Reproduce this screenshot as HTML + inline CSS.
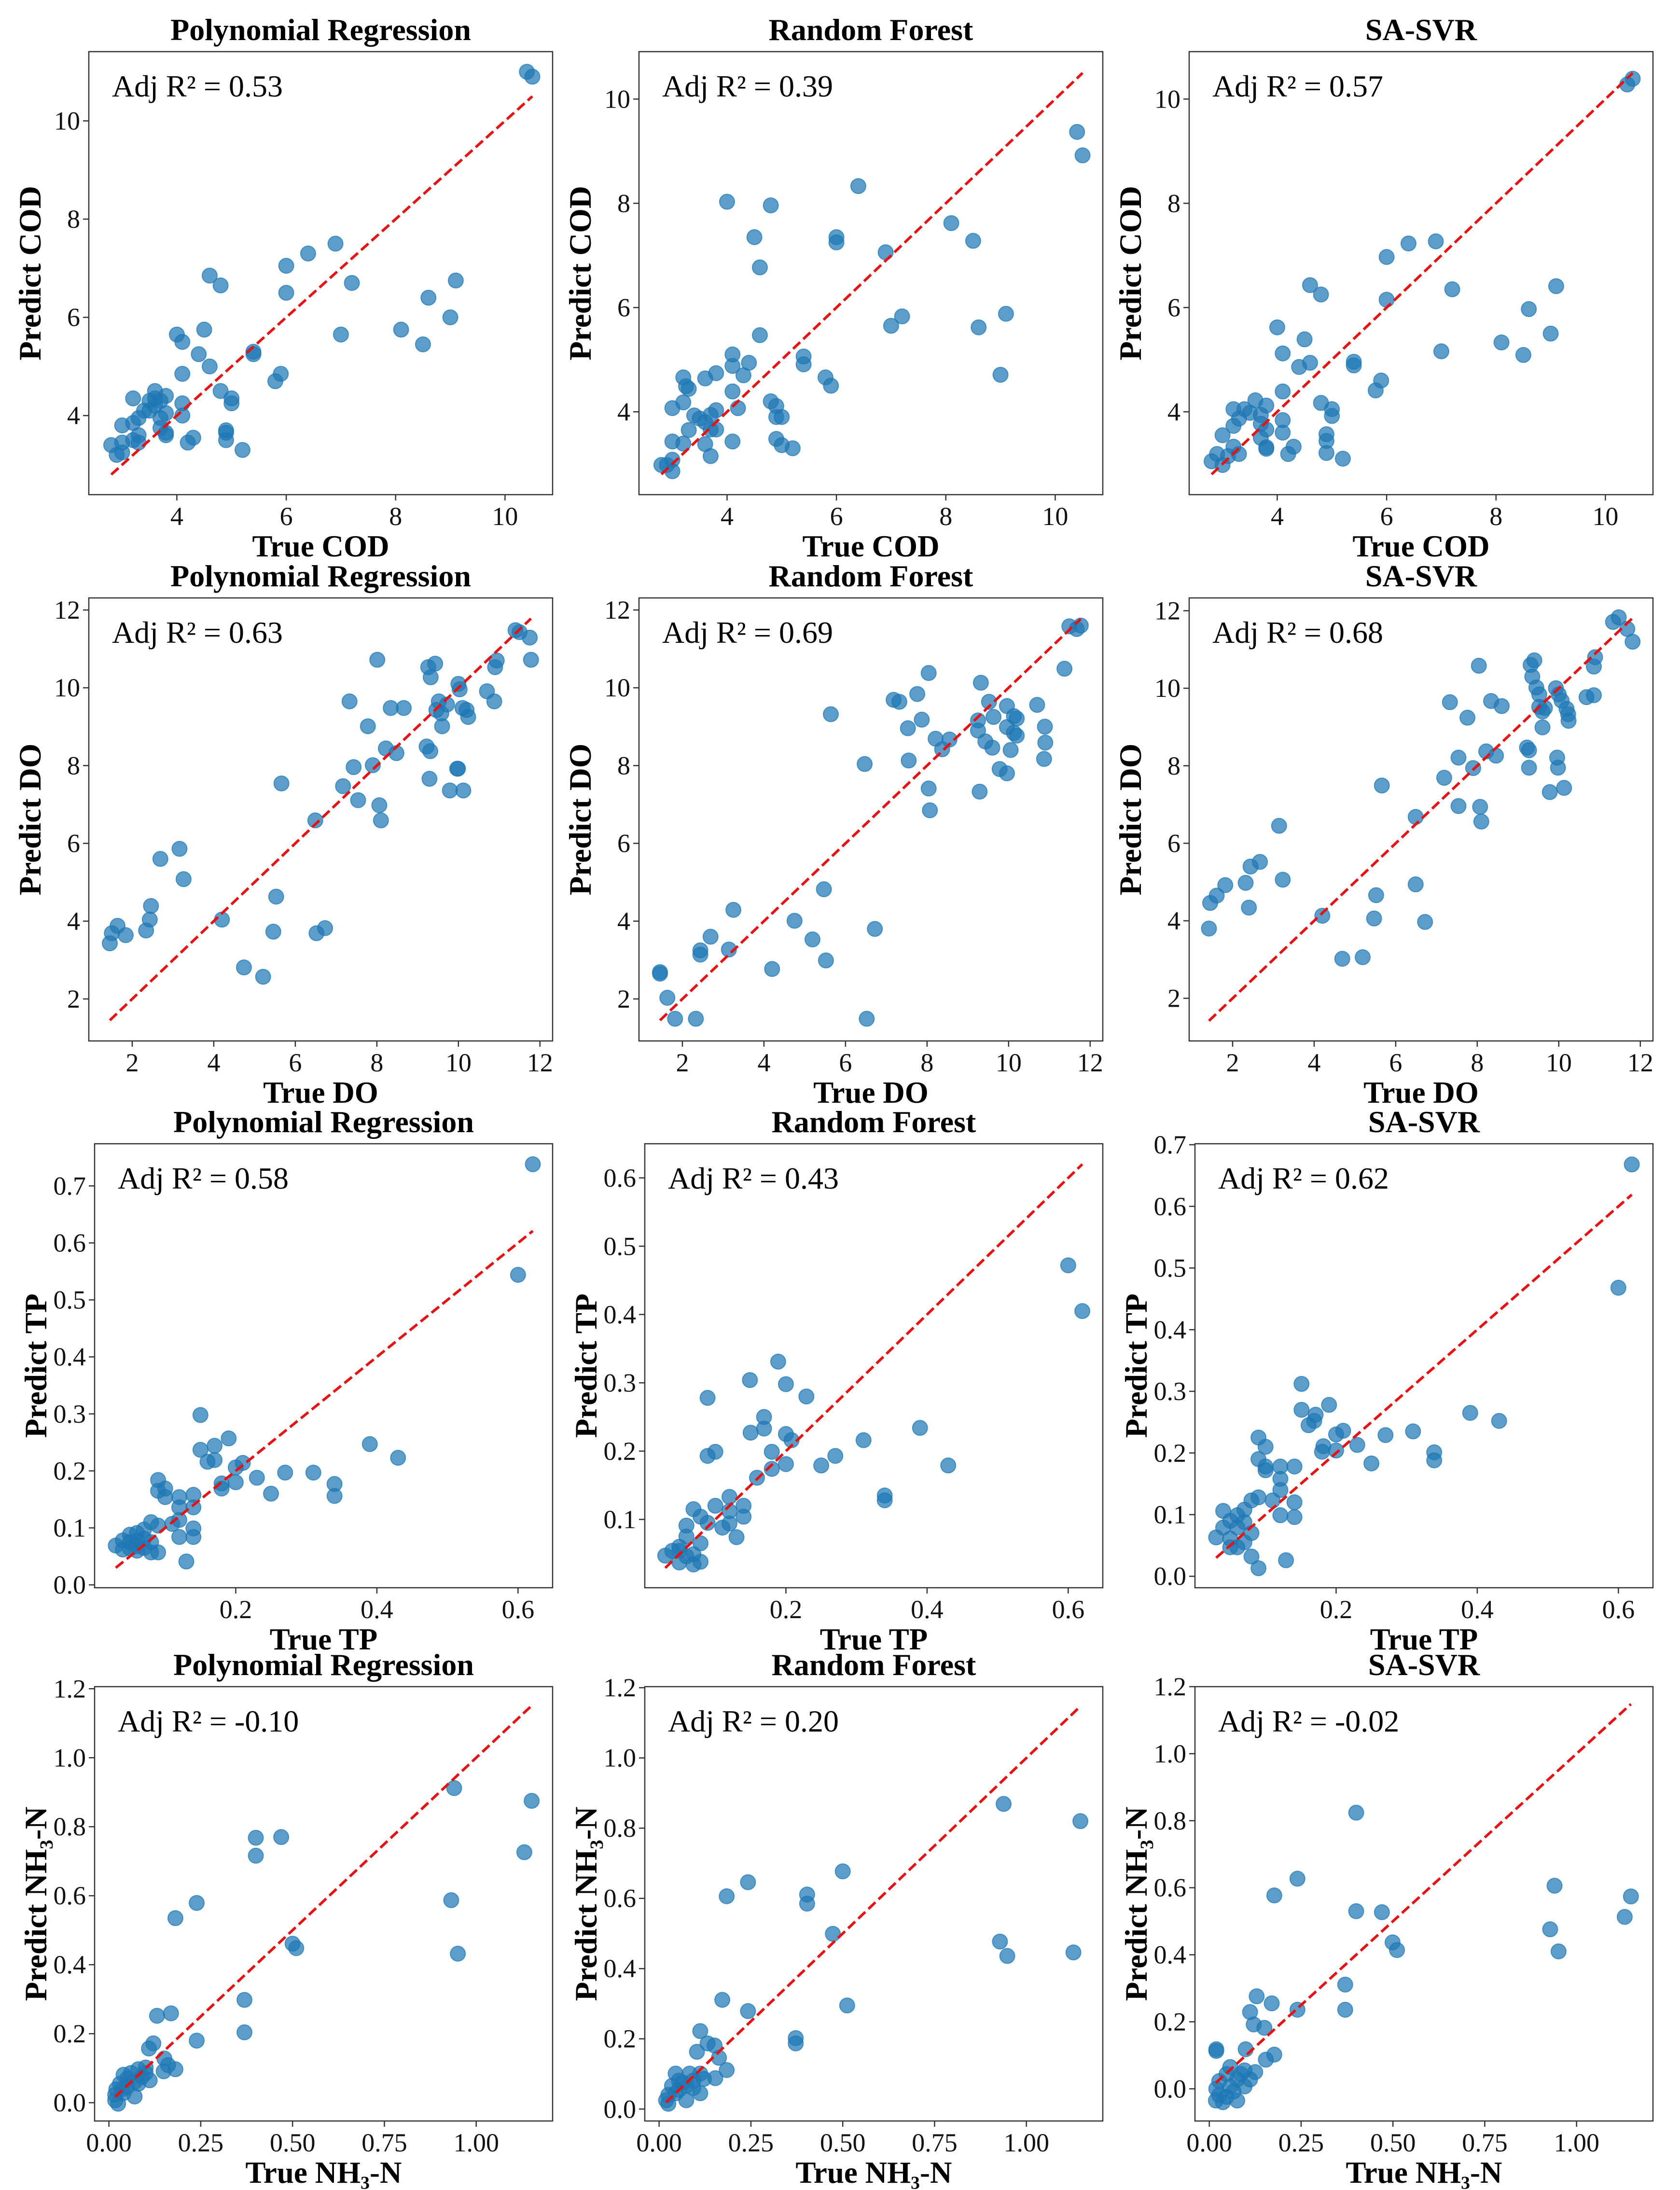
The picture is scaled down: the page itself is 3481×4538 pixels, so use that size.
<!DOCTYPE html>
<html><head><meta charset="utf-8">
<style>
html,body{margin:0;padding:0;background:#fff;}
svg{display:block;font-family:"Liberation Serif","DejaVu Serif",serif;}
</style></head>
<body>
<svg id="fig" xmlns="http://www.w3.org/2000/svg" width="3481" height="4538" viewBox="0 0 3481 4538">
<rect width="3481" height="4538" fill="#fff"/>
</svg>
<script>
// ---- data: [true, predict] pairs per panel ----
const codPR = [[10.4,11.0],[10.5,10.9],[6.9,7.5],[6.4,7.3],[6.0,7.05],[6.0,6.5],[7.2,6.7],[9.1,6.75],[8.6,6.4],[9.0,6.0],[8.1,5.75],[8.5,5.45],[7.0,5.65],[4.6,6.85],[4.8,6.65],[4.0,5.65],[4.1,5.5],[4.5,5.75],[4.4,5.25],[4.6,5.0],[5.4,5.3],[5.4,5.25],[4.1,4.85],[5.9,4.85],[5.8,4.7],[4.8,4.5],[5.0,4.35],[5.0,4.25],[4.1,4.25],[4.1,4.0],[4.9,3.7],[4.9,3.65],[4.9,3.5],[4.3,3.55],[4.2,3.45],[5.2,3.3],[3.2,4.35],[3.5,4.3],[3.6,4.5],[3.7,4.3],[3.8,4.4],[3.4,4.1],[3.6,4.2],[3.8,4.05],[3.3,3.95],[3.2,3.85],[3.0,3.8],[3.7,3.95],[3.7,3.75],[3.8,3.65],[3.8,3.6],[3.3,3.6],[3.2,3.5],[3.3,3.45],[3.0,3.45],[2.8,3.4],[2.9,3.2],[3.0,3.25],[3.6,4.35],[3.5,4.1]];
const codRF = [[10.4,9.37],[10.5,8.92],[6.4,8.33],[4.0,8.03],[4.8,7.96],[8.1,7.62],[4.5,7.35],[6.0,7.35],[6.0,7.25],[8.5,7.28],[6.9,7.06],[4.6,6.77],[7.0,5.65],[7.2,5.83],[8.6,5.62],[9.1,5.88],[9.0,4.71],[4.6,5.47],[4.1,5.1],[4.1,4.88],[4.4,4.94],[5.4,5.06],[5.4,4.91],[5.8,4.66],[5.9,4.5],[3.8,4.74],[3.6,4.64],[4.3,4.7],[3.2,4.66],[3.25,4.49],[3.3,4.44],[4.1,4.39],[3.0,4.07],[3.2,4.18],[4.2,4.07],[4.8,4.2],[4.9,4.11],[4.9,3.9],[5.0,3.9],[3.4,3.93],[3.5,3.87],[3.7,3.94],[3.8,4.03],[3.6,3.8],[3.8,3.66],[3.3,3.65],[3.7,3.66],[3.0,3.43],[3.2,3.39],[3.6,3.38],[4.1,3.43],[4.9,3.48],[5.0,3.36],[5.2,3.3],[3.7,3.15],[2.8,2.98],[2.9,2.98],[3.0,3.08],[3.0,2.86]];
const codSVR = [[10.5,10.39],[10.4,10.28],[6.9,7.27],[6.4,7.23],[6.0,6.97],[6.0,6.15],[7.2,6.35],[9.1,6.41],[8.6,5.97],[9.0,5.5],[8.1,5.33],[8.5,5.09],[7.0,5.16],[4.6,6.43],[4.8,6.25],[4.0,5.62],[4.5,5.39],[4.1,5.12],[4.6,4.94],[4.4,4.86],[5.4,4.96],[5.4,4.89],[5.9,4.6],[5.8,4.41],[4.1,4.39],[4.8,4.17],[5.0,4.05],[5.0,3.92],[4.1,3.84],[4.1,3.6],[4.3,3.33],[4.2,3.19],[4.9,3.57],[4.9,3.44],[4.9,3.21],[5.2,3.1],[3.2,4.05],[3.4,4.05],[3.6,4.22],[3.8,4.12],[3.5,3.98],[3.7,3.94],[3.3,3.87],[3.2,3.73],[3.7,3.77],[3.8,3.66],[3.8,3.32],[3.8,3.29],[3.7,3.5],[3.0,3.55],[3.2,3.33],[3.3,3.19],[2.9,3.19],[2.8,3.05],[3.0,2.98],[3.1,3.15]];
const doPR = [[11.4,11.48],[11.5,11.43],[11.75,11.29],[11.78,10.72],[8.01,10.72],[9.26,10.53],[9.43,10.62],[9.32,10.27],[10.0,10.1],[10.03,9.96],[10.7,9.91],[10.88,9.65],[10.9,10.53],[10.94,10.7],[7.33,9.65],[8.34,9.48],[8.66,9.48],[9.52,9.65],[9.46,9.43],[9.72,9.57],[9.58,9.34],[10.1,9.48],[10.2,9.43],[10.24,9.25],[7.78,9.01],[9.6,9.01],[9.22,8.49],[9.31,8.37],[8.22,8.44],[8.48,8.32],[7.43,7.96],[7.9,8.01],[9.97,7.92],[9.99,7.92],[9.29,7.66],[9.79,7.36],[10.12,7.36],[7.17,7.47],[7.54,7.11],[8.06,6.98],[8.1,6.59],[6.49,6.59],[5.66,7.54],[3.16,5.86],[2.69,5.6],[3.26,5.08],[5.53,4.63],[2.46,4.39],[2.43,4.04],[4.2,4.04],[1.64,3.88],[1.5,3.69],[1.45,3.43],[1.84,3.64],[2.34,3.76],[5.46,3.73],[6.52,3.69],[6.73,3.82],[4.74,2.81],[5.21,2.57]];
const doRF = [[11.49,11.58],[11.77,11.6],[11.67,11.51],[11.37,10.49],[8.04,10.38],[9.32,10.13],[7.76,9.84],[7.18,9.69],[7.32,9.64],[5.64,9.32],[9.52,9.64],[9.96,9.53],[10.7,9.56],[7.87,9.18],[7.53,8.96],[9.25,9.16],[9.63,9.25],[10.13,9.27],[10.2,9.21],[9.96,8.99],[10.13,8.84],[10.2,8.77],[10.89,9.0],[10.9,8.59],[9.25,8.9],[9.43,8.62],[9.6,8.46],[8.21,8.69],[8.55,8.67],[8.37,8.42],[10.05,8.4],[10.87,8.17],[7.55,8.13],[6.47,8.04],[9.78,7.91],[9.96,7.8],[8.04,7.41],[9.29,7.33],[8.07,6.85],[5.47,4.82],[3.25,4.29],[4.75,4.01],[6.72,3.8],[2.69,3.6],[5.19,3.53],[2.44,3.25],[2.44,3.14],[3.14,3.27],[5.52,2.99],[4.2,2.77],[1.45,2.69],[1.45,2.65],[1.63,2.03],[1.82,1.49],[2.33,1.49],[6.52,1.49]];
const doSVR = [[11.47,11.83],[11.33,11.71],[11.68,11.53],[11.81,11.2],[10.89,10.8],[10.86,10.56],[8.04,10.58],[9.31,10.6],[9.4,10.72],[9.35,10.3],[9.45,10.02],[9.93,10.0],[10.0,9.84],[10.07,9.68],[10.68,9.77],[10.86,9.82],[9.52,9.84],[7.33,9.64],[8.34,9.67],[8.6,9.54],[9.52,9.52],[9.66,9.49],[9.6,9.4],[10.19,9.47],[10.23,9.33],[10.24,9.16],[7.76,9.24],[9.6,8.99],[9.22,8.47],[9.27,8.4],[8.22,8.37],[8.46,8.26],[7.54,8.21],[9.96,8.21],[9.98,7.95],[9.27,7.95],[7.9,7.94],[7.19,7.69],[9.78,7.32],[10.13,7.43],[5.66,7.49],[7.54,6.96],[8.07,6.94],[8.1,6.56],[6.49,6.68],[3.14,6.45],[2.67,5.52],[2.44,5.4],[3.23,5.06],[2.32,4.98],[1.82,4.92],[1.61,4.65],[1.45,4.46],[6.49,4.94],[5.52,4.66],[2.4,4.34],[5.47,4.06],[6.72,3.97],[4.2,4.13],[1.42,3.8],[4.69,3.02],[5.19,3.06]];
const tpPR = [[0.621,0.738],[0.6,0.544],[0.39,0.247],[0.43,0.223],[0.34,0.177],[0.34,0.156],[0.31,0.197],[0.27,0.197],[0.23,0.188],[0.25,0.16],[0.15,0.298],[0.19,0.257],[0.17,0.244],[0.15,0.237],[0.16,0.216],[0.17,0.219],[0.21,0.214],[0.2,0.206],[0.2,0.18],[0.18,0.178],[0.18,0.169],[0.09,0.184],[0.1,0.169],[0.09,0.165],[0.1,0.154],[0.12,0.154],[0.14,0.158],[0.12,0.136],[0.14,0.136],[0.12,0.114],[0.11,0.107],[0.14,0.099],[0.12,0.084],[0.14,0.084],[0.13,0.041],[0.08,0.11],[0.09,0.104],[0.07,0.097],[0.06,0.091],[0.05,0.088],[0.04,0.078],[0.03,0.069],[0.05,0.075],[0.06,0.078],[0.07,0.081],[0.08,0.075],[0.06,0.06],[0.08,0.057],[0.09,0.057],[0.04,0.062],[0.05,0.064],[0.07,0.065],[0.06,0.068]];
const tpRF = [[0.6,0.472],[0.62,0.405],[0.189,0.331],[0.149,0.304],[0.2,0.298],[0.089,0.278],[0.229,0.28],[0.169,0.25],[0.169,0.233],[0.15,0.227],[0.2,0.225],[0.208,0.216],[0.39,0.234],[0.31,0.216],[0.18,0.199],[0.1,0.199],[0.089,0.193],[0.27,0.193],[0.25,0.179],[0.2,0.181],[0.18,0.174],[0.43,0.179],[0.159,0.161],[0.34,0.135],[0.34,0.128],[0.12,0.133],[0.14,0.12],[0.1,0.12],[0.069,0.115],[0.12,0.112],[0.14,0.104],[0.079,0.104],[0.11,0.088],[0.12,0.094],[0.13,0.074],[0.059,0.091],[0.089,0.095],[0.059,0.075],[0.079,0.065],[0.049,0.06],[0.039,0.054],[0.029,0.047],[0.059,0.046],[0.079,0.038],[0.069,0.034],[0.049,0.037],[0.049,0.054],[0.069,0.049]];
const tpSVR = [[0.619,0.668],[0.6,0.468],[0.151,0.312],[0.19,0.278],[0.151,0.27],[0.171,0.262],[0.169,0.252],[0.161,0.245],[0.39,0.265],[0.431,0.252],[0.309,0.235],[0.27,0.229],[0.21,0.236],[0.2,0.23],[0.23,0.213],[0.182,0.211],[0.2,0.204],[0.18,0.202],[0.339,0.201],[0.339,0.188],[0.25,0.183],[0.09,0.225],[0.1,0.21],[0.09,0.19],[0.1,0.178],[0.1,0.172],[0.121,0.178],[0.141,0.178],[0.121,0.158],[0.121,0.14],[0.141,0.12],[0.141,0.096],[0.121,0.099],[0.09,0.128],[0.08,0.123],[0.11,0.123],[0.07,0.108],[0.04,0.106],[0.06,0.099],[0.05,0.09],[0.07,0.088],[0.04,0.079],[0.06,0.079],[0.08,0.07],[0.03,0.063],[0.05,0.061],[0.07,0.055],[0.05,0.047],[0.06,0.047],[0.08,0.032],[0.09,0.013],[0.129,0.026]];
const nhPR = [[1.151,0.875],[0.94,0.912],[1.131,0.726],[0.932,0.587],[0.95,0.432],[0.4,0.768],[0.469,0.77],[0.4,0.716],[0.239,0.579],[0.181,0.535],[0.5,0.461],[0.51,0.448],[0.369,0.298],[0.369,0.204],[0.239,0.18],[0.131,0.252],[0.169,0.259],[0.121,0.172],[0.109,0.157],[0.151,0.128],[0.161,0.109],[0.181,0.097],[0.149,0.091],[0.1,0.102],[0.111,0.065],[0.08,0.097],[0.06,0.086],[0.04,0.081],[0.05,0.07],[0.07,0.06],[0.03,0.055],[0.02,0.039],[0.017,0.023],[0.017,0.007],[0.025,-0.003],[0.04,0.028],[0.07,0.018],[0.09,0.075],[0.1,0.086],[0.05,0.046],[0.035,0.039],[0.08,0.055]];
const nhRF = [[0.938,0.869],[1.147,0.82],[0.5,0.677],[0.242,0.646],[0.184,0.606],[0.403,0.611],[0.403,0.585],[0.473,0.499],[0.928,0.477],[0.948,0.436],[1.128,0.446],[0.172,0.311],[0.512,0.295],[0.242,0.279],[0.372,0.202],[0.372,0.187],[0.112,0.222],[0.132,0.187],[0.103,0.163],[0.151,0.181],[0.163,0.146],[0.184,0.111],[0.153,0.088],[0.112,0.045],[0.074,0.025],[0.045,0.101],[0.083,0.101],[0.112,0.101],[0.064,0.076],[0.093,0.081],[0.035,0.066],[0.054,0.055],[0.025,0.04],[0.019,0.025],[0.025,0.015],[0.045,0.045],[0.074,0.066],[0.093,0.06],[0.122,0.086],[0.054,0.081]];
const nhSVR = [[0.4,0.824],[0.24,0.627],[0.177,0.577],[0.94,0.606],[1.148,0.574],[1.131,0.513],[0.928,0.476],[0.951,0.41],[0.4,0.53],[0.47,0.527],[0.499,0.437],[0.511,0.414],[0.37,0.311],[0.37,0.236],[0.24,0.236],[0.129,0.276],[0.17,0.255],[0.111,0.229],[0.121,0.192],[0.15,0.182],[0.177,0.102],[0.154,0.087],[0.099,0.118],[0.019,0.118],[0.019,0.113],[0.057,0.065],[0.096,0.055],[0.111,0.028],[0.047,0.044],[0.076,0.028],[0.027,0.023],[0.019,0.0],[0.027,-0.019],[0.047,-0.024],[0.066,-0.008],[0.076,-0.035],[0.037,-0.04],[0.018,-0.035],[0.096,0.007],[0.057,0.007],[0.086,0.044],[0.125,0.05]];

const models = ["Polynomial Regression","Random Forest","SA-SVR"];
const targets = ["COD","DO","TP","NH₃-N"];
const r2Labels = ["0.53","0.39","0.57","0.63","0.69","0.68","0.58","0.43","0.62","-0.10","0.20","-0.02"];
const xTicksCOD = [4,6,8,10];
const yTicksCOD = [4,6,8,10];
const ticksDO = [2,4,6,8,10,12];
const xTicksTP = [0.2,0.4,0.6];
const yTicksTP1 = [0.0,0.1,0.2,0.3,0.4,0.5,0.6,0.7];
const yTicksTP2 = [0.1,0.2,0.3,0.4,0.5,0.6];
const xTicksNH = [0.00,0.25,0.50,0.75,1.00];
const yTicksNH = [0.0,0.2,0.4,0.6,0.8,1.0,1.2];
const datasets = [codPR,codRF,codSVR,doPR,doRF,doSVR,tpPR,tpRF,tpSVR,nhPR,nhRF,nhSVR];
const xLims = [[2.39,10.87],[2.39,10.87],[2.39,10.87],[0.935,12.31],[0.935,12.31],[0.935,12.31],[0.0,0.649],[0.0,0.649],[0.0,0.649],[-0.039,1.208],[-0.039,1.208],[-0.039,1.208]];
const yLims = [[2.39,11.41],[2.41,10.91],[2.41,10.91],[0.92,12.31],[0.92,12.31],[0.9,12.33],[-0.005,0.774],[0.0,0.65],[-0.0186,0.7016],[-0.053,1.206],[-0.034,1.203],[-0.096,1.2]];
const xTickSets = [xTicksCOD,xTicksCOD,xTicksCOD,ticksDO,ticksDO,ticksDO,xTicksTP,xTicksTP,xTicksTP,xTicksNH,xTicksNH,xTicksNH];
const yTickSets = [yTicksCOD,yTicksCOD,yTicksCOD,ticksDO,ticksDO,ticksDO,yTicksTP1,yTicksTP2,yTicksTP1,yTicksNH,yTicksNH,yTicksNH];
const tickDecimals = [0,0,1,2];
const yDecimals = [0,0,1,1];

const NS = "http://www.w3.org/2000/svg";
const svg = document.getElementById('fig');
function mk(tag, attrs, parent){ const e=document.createElementNS(NS,tag); for(const k in attrs) e.setAttribute(k,attrs[k]); (parent||svg).appendChild(e); return e; }

const rowTops = [107,1239,2370,3495];
const rowHeights = [918,918,920,900];
const colLeftsA = [184,1324,2464], colLeftsB = [196,1336,2476];
const slug = ["pr","rf","svr"];
const tslug = ["cod","do","tp","nh3n"];

for(let r=0;r<4;r++){
  for(let c=0;c<3;c++){
    const i = r*3+c;
    const L = (r<2?colLeftsA:colLeftsB)[c];
    const W = r<2?961:949;
    const T = rowTops[r];
    const H = rowHeights[r];
    const xl = xLims[i], yl = yLims[i];
    const sx = v => L + (v-xl[0])/(xl[1]-xl[0])*W;
    const sy = v => T + H - (v-yl[0])/(yl[1]-yl[0])*H;
    const g = mk('g',{});
    
    
    const t = mk('text',{x:L+W/2,y:T-24,'text-anchor':'middle','font-size':64,'font-weight':'bold',fill:'#000'},g);
    t.textContent = models[c];
    
    
    const pts = mk('g',{},g);
    
    
    const d = datasets[i];
    d.forEach(p=>{
      const ci = mk('circle',{cx:sx(p[0]),cy:sy(p[1]),r:15.5,fill:'#1f77b4','fill-opacity':0.72,stroke:'#1f77b4','stroke-opacity':0.72,'stroke-width':2},pts);
      
      
    });
    const xs = d.map(p=>p[0]);
    const mn = Math.min(...xs), mx = Math.max(...xs);
    const ln = mk('line',{x1:sx(mn),y1:sy(mn),x2:sx(mx),y2:sy(mx),stroke:'#e41414','stroke-width':5.5,'stroke-dasharray':'20 9'},g);
    
    
    const fr = mk('rect',{x:L,y:T,width:W,height:H,fill:'none',stroke:'#333','stroke-width':2.5},g);
    
    
    xTickSets[i].forEach(v=>{
      const x = sx(v);
      mk('line',{x1:x,y1:T+H,x2:x,y2:T+H+12,stroke:'#333','stroke-width':2.5},g);
      const tt = mk('text',{x:x,y:T+H+63,'text-anchor':'middle','font-size':54,fill:'#111'},g);
      tt.textContent = v.toFixed(tickDecimals[r]);
      
      
    });
    yTickSets[i].forEach(v=>{
      const y = sy(v);
      mk('line',{x1:L,y1:y,x2:L-12,y2:y,stroke:'#333','stroke-width':2.5},g);
      const tt = mk('text',{x:L-18,y:y+18,'text-anchor':'end','font-size':54,fill:'#111'},g);
      tt.textContent = v.toFixed(yDecimals[r]);
      
      
    });
    const xlab = mk('text',{x:L+W/2,y:T+H+128,'text-anchor':'middle','font-size':63,'font-weight':'bold',fill:'#000'},g);
    xlab.textContent = 'True '+targets[r];
    
    
    const yx = L - 100;
    const ylab = mk('text',{x:0,y:0,'text-anchor':'middle','font-size':65,'font-weight':'bold',fill:'#000',transform:'translate('+yx+','+(T+H/2)+') rotate(-90)'},g);
    ylab.textContent = 'Predict '+targets[r];
    
    
    const an = mk('text',{x:L+48,y:T+93,'font-size':64,fill:'#000'},g);
    an.textContent = 'Adj R² = '+r2Labels[i];
    
    
  }
}
</script>
</body></html>
